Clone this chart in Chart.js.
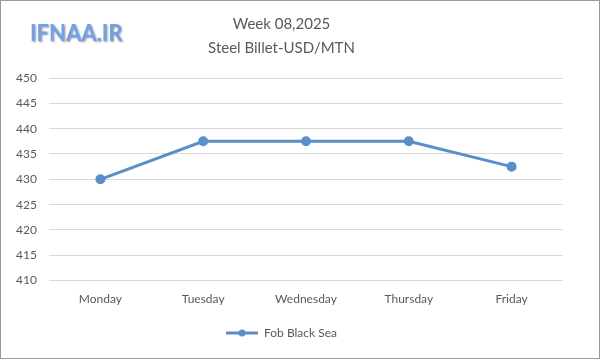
<!DOCTYPE html>
<html>
<head>
<meta charset="utf-8">
<script src="https://cdn.jsdelivr.net/npm/chart.js@4"></script>
<style>
    html, body { margin: 0; padding: 0; background: #fff; }
    #wrap { width: 600px; height: 359px; position: relative; }
</style>
</head>
<body>
<div id="wrap"><canvas id="lineChart" width="600" height="359"></canvas></div>
<script>
const days = ['Monday', 'Tuesday', 'Wednesday', 'Thursday', 'Friday'];
const fobBlackSea = [430, 437.5, 437.5, 437.5, 432.5];
const titleLines = ['Week 08,2025', 'Steel Billet-USD/MTN'];
const seriesName = 'Fob Black Sea';
const yMin = 410;
const yMax = 450;
const yStep = 5;

const lineColor = '#5b8fc8';
const textColor = '#595959';
const fontFamily = 'Lato, "Open Sans", sans-serif';

document.addEventListener("DOMContentLoaded", () => {
    renderLineChart();
});

function legendMarker() {
    const c = document.createElement('canvas');
    c.width = 32;
    c.height = 10;
    const g = c.getContext('2d');
    g.strokeStyle = lineColor;
    g.lineWidth = 3;
    g.beginPath();
    g.moveTo(0, 5);
    g.lineTo(32, 5);
    g.stroke();
    g.fillStyle = lineColor;
    g.beginPath();
    g.arc(16, 5, 3.5, 0, Math.PI * 2);
    g.fill();
    return c;
}

const frameAndStamp = {
    id: 'frameAndStamp',
    afterDraw(chart) {
        const ctx = chart.ctx;
        ctx.save();
        ctx.strokeStyle = '#9a9a9a';
        ctx.lineWidth = 1;
        ctx.strokeRect(0.5, 0.5, chart.width - 1, chart.height - 1);

        ctx.font = 'bold 22px ' + fontFamily;
        ctx.textBaseline = 'alphabetic';
        ctx.shadowColor = 'rgba(60,60,90,0.55)';
        ctx.shadowOffsetX = 1;
        ctx.shadowOffsetY = 1;
        ctx.shadowBlur = 2;
        ctx.fillStyle = '#72a2e2';
        ctx.fillText('IFNAA.IR', 30, 41);
        ctx.restore();
    }
};

function renderLineChart() {
    const ctx = document.getElementById('lineChart')?.getContext('2d');
    if (!ctx) return;

    const marker = legendMarker();

    new Chart(ctx, {
        type: 'line',
        data: {
            labels: days,
            datasets: [{
                label: seriesName,
                data: fobBlackSea,
                borderColor: lineColor,
                backgroundColor: lineColor,
                borderWidth: 3,
                pointRadius: 3.5,
                pointHoverRadius: 3.5,
                pointStyle: 'circle',
                tension: 0
            }]
        },
        options: {
            responsive: false,
            animation: false,
            layout: { padding: { left: 0, right: 37, top: 0, bottom: 10 } },
            plugins: {
                title: {
                    display: true,
                    text: titleLines,
                    color: textColor,
                    font: { family: fontFamily, size: 15, weight: 'normal', lineHeight: 1.6 },
                    padding: { top: 12, bottom: 18 }
                },
                legend: {
                    position: 'bottom',
                    labels: {
                        usePointStyle: true,
                        pointStyleWidth: 32,
                        generateLabels: (chart) => [{
                            text: seriesName,
                            pointStyle: marker,
                            fontColor: textColor,
                            strokeStyle: lineColor,
                            fillStyle: lineColor,
                            lineWidth: 0,
                            datasetIndex: 0
                        }],
                        color: textColor,
                        font: { family: fontFamily, size: 12 },
                        padding: 18
                    }
                },
                tooltip: { enabled: false }
            },
            scales: {
                x: {
                    offset: true,
                    grid: { display: false },
                    border: { display: false },
                    ticks: {
                        color: textColor,
                        font: { family: fontFamily, size: 12 },
                        padding: 3
                    }
                },
                y: {
                    min: yMin,
                    max: yMax,
                    ticks: {
                        stepSize: yStep,
                        color: textColor,
                        font: { family: fontFamily, size: 12 },
                        padding: 12
                    },
                    grid: { color: '#d9d9d9', drawTicks: false },
                    border: { display: false },
                    afterFit(scale) {
                        scale.width = 49;
                    }
                }
            }
        },
        plugins: [frameAndStamp]
    });
}
</script>
</body>
</html>
